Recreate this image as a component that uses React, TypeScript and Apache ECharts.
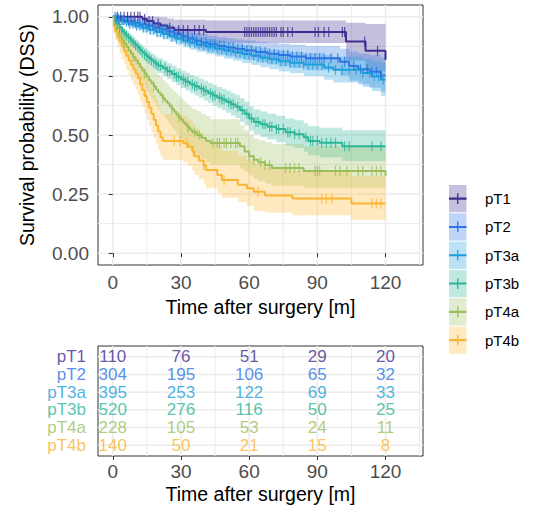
import React, { useEffect, useRef } from "react";
import * as echarts from "echarts";

const groups = ["pT1", "pT2", "pT3a", "pT3b", "pT4a", "pT4b"];
const colors = ["#3E2D8F", "#2C73E3", "#1CA0D9", "#2CB597", "#9CBF5C", "#FBB532"];

const xTicks = [0, 30, 60, 90, 120];
const xMinor = [15, 45, 75, 105, 135];
const yTicks = [0, 0.25, 0.5, 0.75, 1];
const yMinor = [0.125, 0.375, 0.625, 0.875];
const riskTimes = [0, 30, 60, 90, 120];

const risk_pT1 = [110, 76, 51, 29, 20];
const risk_pT2 = [304, 195, 106, 65, 32];
const risk_pT3a = [395, 253, 122, 69, 33];
const risk_pT3b = [520, 276, 116, 50, 25];
const risk_pT4a = [228, 105, 53, 24, 11];
const risk_pT4b = [140, 50, 21, 15, 8];

// Kaplan-Meier steps: [time, survival]
const surv_pT1 = [[0, 1], [13, 0.991], [15, 0.982], [18, 0.972], [21, 0.963], [24, 0.954], [27, 0.944], [41, 0.936], [102.6, 0.896], [111.2, 0.856], [120, 0.818]];
const surv_pT2 = [[0, 1], [2, 0.993], [4, 0.987], [6, 0.98], [9, 0.974], [12, 0.968], [15, 0.962], [18, 0.955], [21, 0.947], [24, 0.938], [27, 0.928], [30, 0.918], [33, 0.908], [36, 0.899], [39, 0.891], [42, 0.884], [46, 0.877], [50, 0.87], [54, 0.864], [58, 0.858], [63, 0.851], [68, 0.844], [73, 0.838], [78, 0.832], [85, 0.825], [100, 0.81], [104, 0.792], [108, 0.778], [113, 0.768], [118, 0.752], [120, 0.752]];
const surv_pT3a = [[0, 1], [1.5, 0.992], [3, 0.985], [5, 0.978], [7, 0.97], [10, 0.962], [13, 0.954], [16, 0.945], [19, 0.936], [22, 0.927], [25, 0.918], [28, 0.908], [31, 0.899], [34, 0.89], [37, 0.882], [41, 0.874], [45, 0.866], [49, 0.858], [53, 0.85], [57, 0.843], [61, 0.835], [65, 0.827], [69, 0.82], [73, 0.812], [78, 0.806], [84, 0.798], [93, 0.786], [97, 0.776], [110, 0.762], [114, 0.748], [118, 0.735], [120, 0.735]];
const surv_pT3b = [[0, 1], [1, 0.985], [2, 0.97], [3, 0.955], [4, 0.94], [5, 0.93], [6, 0.92], [7, 0.91], [8, 0.9], [9, 0.89], [10, 0.88], [11, 0.87], [12, 0.86], [13, 0.85], [14, 0.84], [15, 0.832], [16, 0.824], [17, 0.816], [18, 0.808], [19, 0.8], [20, 0.793], [22, 0.782], [24, 0.77], [26, 0.758], [28, 0.746], [30, 0.735], [32, 0.725], [34, 0.715], [36, 0.706], [38, 0.697], [40, 0.687], [42, 0.677], [44, 0.667], [46, 0.658], [48, 0.65], [50, 0.64], [52, 0.63], [54, 0.62], [56, 0.605], [58, 0.59], [60, 0.57], [62, 0.555], [65, 0.545], [68, 0.535], [72, 0.525], [76, 0.512], [80, 0.503], [84, 0.49], [86, 0.475], [91, 0.467], [101, 0.452], [120, 0.452]];
const surv_pT4a = [[0, 1], [0.5, 0.975], [1, 0.955], [2, 0.935], [3, 0.915], [4, 0.9], [5, 0.888], [6, 0.873], [7, 0.858], [8, 0.843], [9, 0.829], [10, 0.815], [11, 0.801], [12, 0.787], [13, 0.773], [14, 0.76], [15, 0.746], [16, 0.732], [17, 0.719], [18, 0.706], [19, 0.693], [20, 0.68], [21, 0.668], [22, 0.656], [23, 0.645], [24, 0.634], [25, 0.622], [26, 0.61], [27, 0.598], [28, 0.586], [29, 0.575], [30, 0.564], [31, 0.553], [32, 0.542], [33, 0.532], [34, 0.522], [35, 0.512], [37, 0.5], [39, 0.488], [41, 0.476], [43, 0.466], [56, 0.452], [58, 0.43], [60, 0.41], [62, 0.395], [64, 0.385], [67, 0.373], [70, 0.36], [84, 0.348], [120, 0.328]];
const surv_pT4b = [[0, 1], [0.5, 0.96], [1, 0.94], [2, 0.915], [3, 0.895], [4, 0.875], [5, 0.855], [6, 0.835], [7, 0.815], [8, 0.797], [9, 0.778], [10, 0.76], [11, 0.741], [12, 0.715], [13, 0.69], [14, 0.665], [15, 0.64], [16, 0.615], [17, 0.59], [18, 0.565], [19, 0.54], [20, 0.515], [21, 0.49], [22, 0.475], [31, 0.465], [33, 0.45], [35, 0.43], [36, 0.41], [38, 0.392], [40, 0.372], [41, 0.352], [46, 0.331], [48, 0.31], [55, 0.29], [59, 0.275], [62, 0.26], [67, 0.244], [79, 0.231], [105, 0.21], [120, 0.21]];

// Confidence bands: [time, lower, upper]
const band_pT1 = [[0, 1, 1], [13, 0.973, 1], [15, 0.957, 1], [18, 0.942, 1], [21, 0.929, 0.998], [24, 0.917, 0.993], [27, 0.903, 0.988], [41, 0.889, 0.984], [102.6, 0.815, 0.975], [111.2, 0.77, 0.97], [120, 0.72, 0.96]];
const band_pT2 = [[0, 1, 1], [2, 0.985, 1], [4, 0.975, 0.999], [6, 0.966, 0.995], [9, 0.957, 0.991], [12, 0.949, 0.987], [15, 0.941, 0.983], [18, 0.932, 0.978], [21, 0.922, 0.972], [24, 0.911, 0.965], [27, 0.899, 0.957], [30, 0.888, 0.949], [33, 0.877, 0.94], [36, 0.866, 0.932], [39, 0.857, 0.926], [42, 0.849, 0.92], [46, 0.84, 0.914], [50, 0.832, 0.909], [54, 0.824, 0.904], [58, 0.817, 0.9], [63, 0.808, 0.895], [68, 0.799, 0.89], [73, 0.791, 0.886], [78, 0.783, 0.882], [85, 0.774, 0.877], [100, 0.752, 0.865], [104, 0.73, 0.853], [108, 0.714, 0.845], [113, 0.7, 0.838], [118, 0.683, 0.828], [120, 0.683, 0.828]];
const band_pT3a = [[0, 1, 1], [1.5, 0.983, 1], [3, 0.974, 0.996], [5, 0.965, 0.991], [7, 0.955, 0.985], [10, 0.945, 0.979], [13, 0.935, 0.973], [16, 0.925, 0.966], [19, 0.914, 0.958], [22, 0.904, 0.951], [25, 0.893, 0.943], [28, 0.882, 0.935], [31, 0.871, 0.927], [34, 0.861, 0.92], [37, 0.852, 0.913], [41, 0.842, 0.906], [45, 0.832, 0.9], [49, 0.823, 0.893], [53, 0.814, 0.887], [57, 0.805, 0.881], [61, 0.796, 0.875], [65, 0.787, 0.868], [69, 0.778, 0.862], [73, 0.769, 0.856], [78, 0.761, 0.851], [84, 0.75, 0.846], [93, 0.734, 0.838], [97, 0.722, 0.831], [110, 0.703, 0.822], [114, 0.686, 0.812], [118, 0.665, 0.805], [120, 0.665, 0.805]];
const band_pT3b = [[0, 1, 1], [1, 0.975, 0.995], [2, 0.958, 0.983], [3, 0.94, 0.97], [4, 0.923, 0.957], [5, 0.912, 0.948], [6, 0.9, 0.94], [7, 0.888, 0.931], [8, 0.877, 0.922], [9, 0.866, 0.913], [10, 0.855, 0.904], [11, 0.844, 0.895], [12, 0.833, 0.886], [13, 0.822, 0.877], [14, 0.811, 0.868], [15, 0.803, 0.861], [16, 0.794, 0.853], [17, 0.786, 0.846], [18, 0.777, 0.838], [19, 0.769, 0.831], [20, 0.761, 0.825], [22, 0.749, 0.815], [24, 0.736, 0.804], [26, 0.724, 0.793], [28, 0.711, 0.782], [30, 0.699, 0.772], [32, 0.688, 0.763], [34, 0.677, 0.754], [36, 0.667, 0.746], [38, 0.657, 0.738], [40, 0.646, 0.729], [42, 0.635, 0.72], [44, 0.624, 0.711], [46, 0.614, 0.703], [48, 0.605, 0.696], [50, 0.594, 0.687], [52, 0.583, 0.678], [54, 0.572, 0.669], [56, 0.556, 0.655], [58, 0.54, 0.641], [60, 0.519, 0.622], [62, 0.503, 0.608], [65, 0.492, 0.599], [68, 0.481, 0.59], [72, 0.469, 0.581], [76, 0.455, 0.57], [80, 0.445, 0.562], [84, 0.43, 0.55], [86, 0.414, 0.537], [91, 0.405, 0.531], [101, 0.39, 0.52], [120, 0.39, 0.52]];
const band_pT4a = [[0, 1, 1], [0.5, 0.955, 0.995], [1, 0.928, 0.985], [2, 0.903, 0.968], [3, 0.879, 0.951], [4, 0.861, 0.939], [5, 0.846, 0.93], [6, 0.829, 0.918], [7, 0.811, 0.905], [8, 0.794, 0.893], [9, 0.778, 0.881], [10, 0.762, 0.869], [11, 0.746, 0.857], [12, 0.73, 0.845], [13, 0.714, 0.833], [14, 0.699, 0.822], [15, 0.683, 0.81], [16, 0.667, 0.798], [17, 0.652, 0.787], [18, 0.638, 0.776], [19, 0.623, 0.765], [20, 0.609, 0.754], [21, 0.595, 0.743], [22, 0.582, 0.733], [23, 0.57, 0.723], [24, 0.557, 0.714], [25, 0.544, 0.703], [26, 0.531, 0.693], [27, 0.518, 0.683], [28, 0.505, 0.673], [29, 0.493, 0.663], [30, 0.481, 0.654], [31, 0.469, 0.645], [32, 0.457, 0.636], [33, 0.446, 0.627], [34, 0.435, 0.619], [35, 0.424, 0.61], [37, 0.411, 0.6], [39, 0.398, 0.589], [41, 0.385, 0.579], [43, 0.374, 0.567], [56, 0.358, 0.54], [58, 0.345, 0.52], [60, 0.33, 0.5], [62, 0.315, 0.485], [64, 0.305, 0.478], [67, 0.295, 0.47], [70, 0.285, 0.462], [84, 0.275, 0.452], [120, 0.26, 0.44]];
const band_pT4b = [[0, 1, 1], [0.5, 0.928, 0.993], [1, 0.902, 0.98], [2, 0.871, 0.961], [3, 0.846, 0.946], [4, 0.822, 0.931], [5, 0.798, 0.916], [6, 0.775, 0.9], [7, 0.752, 0.884], [8, 0.731, 0.869], [9, 0.71, 0.854], [10, 0.69, 0.84], [11, 0.669, 0.825], [12, 0.642, 0.803], [13, 0.616, 0.781], [14, 0.59, 0.759], [15, 0.564, 0.737], [16, 0.538, 0.715], [17, 0.512, 0.693], [18, 0.487, 0.671], [19, 0.461, 0.648], [20, 0.436, 0.626], [21, 0.41, 0.603], [22, 0.395, 0.589], [31, 0.385, 0.58], [33, 0.37, 0.566], [35, 0.35, 0.547], [36, 0.331, 0.528], [38, 0.313, 0.511], [40, 0.294, 0.492], [41, 0.275, 0.473], [46, 0.255, 0.453], [48, 0.235, 0.432], [55, 0.216, 0.412], [59, 0.2, 0.395], [62, 0.178, 0.38], [67, 0.172, 0.365], [79, 0.16, 0.35], [105, 0.14, 0.325], [120, 0.14, 0.325]];

// Censoring times
const cens_pT1 = [2, 3.5, 5, 6.5, 8, 9.5, 11, 12, 14, 16, 17.5, 20, 25, 29, 31, 33, 36, 38, 40, 58, 59, 60, 61, 62, 63, 64, 65, 66, 67, 68, 69, 70, 71, 72, 74, 75, 77, 79, 89, 90.5, 93, 95, 101, 102, 110.8, 116.5];
const cens_pT2 = [1, 2.5, 4, 5, 7, 8.5, 10, 11.5, 13, 14.5, 16, 17.5, 19, 20.5, 22, 23.5, 25, 27, 28.5, 31, 33, 35, 37, 39, 41, 43, 45, 47, 49, 51, 53, 55, 57, 59, 61, 63, 65, 67, 69, 71, 73, 75, 77, 79, 81, 83, 85, 87, 89, 91, 93, 96, 99, 102, 106, 109, 112, 114, 116, 118];
const cens_pT3a = [1.5, 3, 4.5, 6, 7.5, 9, 10.5, 12, 13.5, 15, 16.5, 18, 19.5, 21, 22.5, 24, 26, 28, 30, 32, 34, 36, 38, 40, 42, 44, 46, 48, 50, 52, 54, 56, 58, 60, 62, 64, 66, 68, 70, 72, 74, 76, 78, 80, 82, 84, 86, 88, 90, 92, 95, 98, 101, 104, 107, 110, 113, 115, 117, 119];
const cens_pT3b = [1, 2, 3, 4, 5, 6, 7, 8, 9, 10, 11, 12, 13, 14, 15, 16, 17, 18, 19, 20, 21, 23, 24, 25, 27, 28, 29, 31, 32, 33, 35, 36, 37, 39, 40, 41, 43, 44, 45, 47, 48, 49, 51, 52, 53, 55, 57, 59, 61, 63, 64, 66, 67, 69, 70, 72, 73, 75, 77, 78, 80, 82, 85, 87, 88, 90, 92, 94, 96, 98, 102, 104, 114, 118];
const cens_pT4a = [5, 9, 14, 18, 22, 26, 29, 33, 36, 38, 44, 46, 47, 49, 50, 52, 54, 55, 60, 62, 65, 67, 69, 76, 78, 80, 82, 89, 90, 91, 98, 100, 103, 108, 110, 114, 116, 118];
const cens_pT4b = [27, 29.5, 32.5, 35.5, 40, 49, 64, 92, 94, 96.5, 114, 116, 118];

const survs = [surv_pT1, surv_pT2, surv_pT3a, surv_pT3b, surv_pT4a, surv_pT4b];
const bands = [band_pT1, band_pT2, band_pT3a, band_pT3b, band_pT4a, band_pT4b];
const censs = [cens_pT1, cens_pT2, cens_pT3a, cens_pT3b, cens_pT4a, cens_pT4b];
const risks = [risk_pT1, risk_pT2, risk_pT3a, risk_pT3b, risk_pT4a, risk_pT4b];

const FONT = "'Liberation Sans', Arial, Helvetica, sans-serif";
const TABLE_FONT = 17;
const X_MIN = -6.5;
const X_MAX = 136.5;

function rgba(hex: string, a: number) {
  const n = parseInt(hex.slice(1), 16);
  return `rgba(${(n >> 16) & 255},${(n >> 8) & 255},${n & 255},${a})`;
}

function survAt(curve: number[][], t: number) {
  let s = curve[0][1];
  for (const p of curve) {
    if (p[0] <= t) s = p[1];
    else break;
  }
  return s;
}

// legend key: "+" in the left 17.5px of a 31px-wide icon (corner markers fix the bounding box)
const PLUS =
  "path://M0,0 L1,0 Z M309,0 L310,0 Z M0,273 L1,273 Z M309,273 L310,273 Z M0,126 L81,126 L81,83 L94,83 L94,126 L175,126 L175,147 L94,147 L94,190 L81,190 L81,147 L0,147 Z";

function gridSeries(gi: number, vals: number[], vertical: boolean, width: number) {
  return {
    type: "custom",
    xAxisIndex: gi,
    yAxisIndex: gi,
    silent: true,
    z: 0,
    data: vals.map((v) => (vertical ? [v, 0.5] : [0, v])),
    renderItem: (params: any, api: any) => {
      const cs = params.coordSys;
      if (vertical) {
        const x = api.coord([api.value(0), api.value(1)])[0];
        return { type: "line", shape: { x1: x, y1: cs.y, x2: x, y2: cs.y + cs.height }, style: { stroke: "#EBEBEB", lineWidth: width } };
      }
      const y = api.coord([api.value(0), api.value(1)])[1];
      return { type: "line", shape: { x1: cs.x, y1: y, x2: cs.x + cs.width, y2: y }, style: { stroke: "#EBEBEB", lineWidth: width } };
    },
  };
}

export default function App() {
  const ref = useRef<HTMLDivElement>(null);
  useEffect(() => {
    if (!ref.current) return;
    const chart = echarts.init(ref.current, undefined, { renderer: "svg" });
    const series: any[] = [];
    series.push(gridSeries(0, xMinor, true, 1));
    series.push(gridSeries(0, yMinor, false, 1));
    series.push(gridSeries(0, xTicks, true, 1.5));
    series.push(gridSeries(0, yTicks, false, 1.5));
    series.push(gridSeries(1, xMinor, true, 1));
    series.push(gridSeries(1, xTicks, true, 1.5));
    series.push(gridSeries(1, [1, 2, 3, 4, 5, 6], false, 1.5));

    groups.forEach((g, i) => {
      const band = bands[i];
      series.push({
        type: "custom",
        name: "band-" + g,
        xAxisIndex: 0,
        yAxisIndex: 0,
        silent: true,
        z: 1,
        data: band,
        encode: { x: 0, y: [1, 2] },
        renderItem: (params: any, api: any) => {
          if (params.dataIndex !== 0) return null;
          const pts: number[][] = [];
          for (let k = 0; k < band.length; k++) {
            pts.push(api.coord([band[k][0], band[k][2]]));
            if (k < band.length - 1) pts.push(api.coord([band[k + 1][0], band[k][2]]));
          }
          for (let k = band.length - 1; k >= 0; k--) {
            if (k < band.length - 1) pts.push(api.coord([band[k + 1][0], band[k][1]]));
            pts.push(api.coord([band[k][0], band[k][1]]));
          }
          return { type: "polygon", shape: { points: pts }, style: { fill: rgba(colors[i], 0.3) } };
        },
      });
    });
    groups.forEach((g, i) => {
      series.push({
        type: "line",
        name: g,
        xAxisIndex: 0,
        yAxisIndex: 0,
        step: "end",
        showSymbol: false,
        silent: true,
        z: 2,
        data: survs[i],
        lineStyle: { color: colors[i], width: 2 },
        itemStyle: { color: colors[i] },
      });
    });
    groups.forEach((g, i) => {
      series.push({
        type: "scatter",
        name: "cens-" + g,
        xAxisIndex: 0,
        yAxisIndex: 0,
        silent: true,
        z: 3,
        symbol: "rect",
        symbolSize: [1.2, 10],
        data: censs[i].map((t) => [t, survAt(survs[i], t)]),
        itemStyle: { color: colors[i] },
      });
    });
    groups.forEach((g, i) => {
      series.push({
        type: "scatter",
        name: "risk-" + g,
        xAxisIndex: 1,
        yAxisIndex: 1,
        silent: true,
        z: 3,
        symbolSize: 2,
        itemStyle: { color: "rgba(255,255,255,0)" },
        data: riskTimes.map((t, k) => [t, 6 - i, risks[i][k]]),
        label: {
          show: true,
          position: "inside",
          formatter: (p: any) => String(p.value[2]),
          fontSize: TABLE_FONT,
          color: colors[i],
          fontFamily: FONT,
        },
        labelLayout: { hideOverlap: false },
      });
    });
    // row labels of the risk table, placed at the left edge of the table panel
    series.push({
      type: "scatter",
      name: "rowlabels",
      xAxisIndex: 1,
      yAxisIndex: 1,
      silent: true,
      clip: false,
      z: 3,
      symbolSize: 2,
      itemStyle: { color: "rgba(255,255,255,0)" },
      data: groups.map((g, i) => ({
        value: [X_MIN, 6 - i],
        name: g,
        label: { color: colors[i] },
      })),
      label: {
        show: true,
        position: "left",
        distance: 11,
        formatter: (p: any) => p.name,
        fontSize: TABLE_FONT,
        fontFamily: FONT,
      },
      labelLayout: { hideOverlap: false },
    });

    const legendBase = {
      orient: "vertical",
      top: 185,
      itemHeight: 27.3,
      itemGap: 1,
      padding: 0,
      selectedMode: false,
      symbolKeepAspect: false,
    };

    const option: any = {
      animation: false,
      backgroundColor: "#FFFFFF",
      textStyle: { fontFamily: FONT },
      grid: [
        { left: 98, top: 5, width: 325, height: 260, show: true, borderColor: "#333333", borderWidth: 1, backgroundColor: "transparent" },
        { left: 98, top: 346, width: 325, height: 110, show: true, borderColor: "#333333", borderWidth: 1, backgroundColor: "transparent" },
      ],
      legend: [
        {
          ...legendBase,
          left: 449,
          itemWidth: 17.5,
          formatter: () => "",
          textStyle: { fontSize: 15, fontFamily: FONT },
          data: groups.map((g, i) => ({ name: g, icon: "rect", itemStyle: { color: rgba(colors[i], 0.3), borderWidth: 0 } })),
        },
        {
          ...legendBase,
          left: 449,
          itemWidth: 31,
          textStyle: { color: "#000000", fontSize: 15, fontFamily: FONT },
          data: groups.map((g, i) => ({ name: g, icon: PLUS, itemStyle: { color: colors[i], borderWidth: 0 } })),
        },
      ],
      xAxis: [
        {
          type: "value",
          gridIndex: 0,
          min: X_MIN,
          max: X_MAX,
          splitLine: { show: false },
          axisLine: { show: false },
          axisTick: { show: true, customValues: xTicks, length: 4, lineStyle: { color: "#333333", width: 1 } },
          axisLabel: { customValues: xTicks, fontSize: 19, color: "#4D4D4D", margin: 8, fontFamily: FONT },
          name: "Time after surgery [m]",
          nameLocation: "middle",
          nameGap: 17,
          nameTextStyle: { fontSize: 19.5, color: "#000000", fontFamily: FONT },
        },
        {
          type: "value",
          gridIndex: 1,
          min: X_MIN,
          max: X_MAX,
          splitLine: { show: false },
          axisLine: { show: false },
          axisTick: { show: true, customValues: xTicks, length: 4, lineStyle: { color: "#333333", width: 1 } },
          axisLabel: { customValues: xTicks, fontSize: 19, color: "#4D4D4D", margin: 6, fontFamily: FONT },
          name: "Time after surgery [m]",
          nameLocation: "middle",
          nameGap: 28,
          nameTextStyle: { fontSize: 19.5, color: "#000000", fontFamily: FONT },
        },
      ],
      yAxis: [
        {
          type: "value",
          gridIndex: 0,
          min: -0.05,
          max: 1.05,
          splitLine: { show: false },
          axisLine: { show: false },
          axisTick: { show: true, customValues: yTicks, length: 4, lineStyle: { color: "#333333", width: 1 } },
          axisLabel: { customValues: yTicks, fontSize: 19, color: "#4D4D4D", margin: 9, fontFamily: FONT, formatter: (v: number) => Number(v).toFixed(2) },
          name: "Survival probability (DSS)",
          nameLocation: "middle",
          nameGap: 61,
          nameRotate: 90,
          nameTextStyle: { fontSize: 19.5, color: "#000000", fontFamily: FONT },
        },
        {
          type: "value",
          gridIndex: 1,
          min: 0.4,
          max: 6.6,
          splitLine: { show: false },
          axisLine: { show: false },
          axisTick: { show: false },
          axisLabel: { show: false },
        },
      ],
      series,
    };
    chart.setOption(option);
    return () => chart.dispose();
  }, []);
  return <div ref={ref} style={{ position: "absolute", left: 0, top: 0, width: 538, height: 510 }} />;
}
